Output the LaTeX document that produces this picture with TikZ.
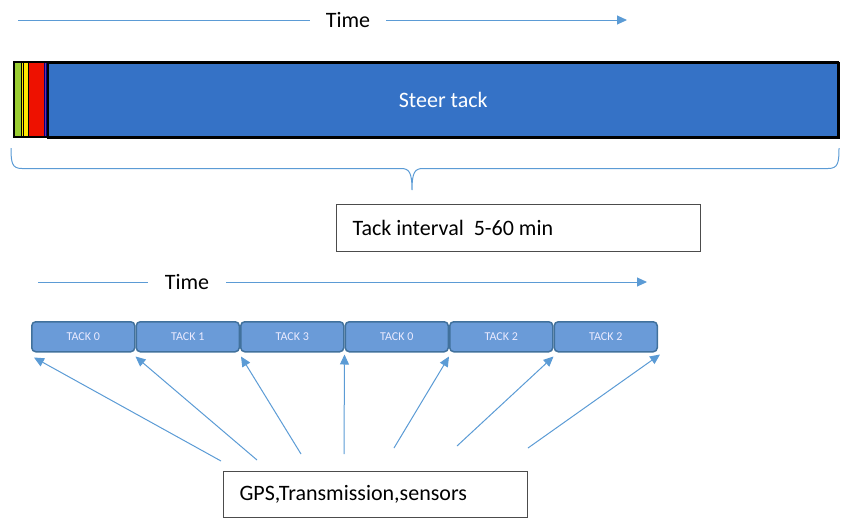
\documentclass[tikz,border=0pt]{standalone}
\usepackage{fontspec}
\setmainfont{Carlito}
\usetikzlibrary{arrows.meta,positioning}
\definecolor{timeblue}{HTML}{5B9BD5}
\definecolor{steerblue}{HTML}{3572C6}
\definecolor{tackfill}{HTML}{6A9BD8}
\definecolor{tackline}{HTML}{41719C}
\definecolor{stripgreen}{HTML}{9ACD32}
\definecolor{stripyellow}{HTML}{FFE600}
\definecolor{stripred}{HTML}{EE1100}
\definecolor{strippurple}{HTML}{7030A0}

\begin{document}
\begin{tikzpicture}[x=1pt,y=-1pt,
  bigtext/.style={font=\fontsize{22}{26}\selectfont},
  timeline/.style={draw=timeblue,line width=1pt},
  timearrow/.style={timeline,-{Triangle[length=10pt,width=9pt]}},
  tackbox/.style={draw=tackline,fill=tackfill,line width=1.5pt,rounded corners=4pt,
    minimum width=103pt,minimum height=30pt,inner sep=0pt,text=white!92!blue,
    font=\fontsize{12}{14}\selectfont},
  infobox/.style={bigtext,draw=black!70,line width=1pt,align=flush left,inner xsep=16pt,anchor=north west}]
\useasboundingbox (0,0) rectangle (847,528);

% time axis on top
\node[bigtext,inner xsep=16pt] (time1) at (348,20) {Time};
\coordinate (time1start) at (18,20);
\coordinate (time1end) at (627,20);
\draw[timeline] (time1start) -- (time1.west);
\draw[timearrow] (time1.east) -- (time1end);

% the tack bar
\filldraw[draw=black,line width=0.8pt,fill=stripgreen] (14,62) rectangle (21.5,137);
\filldraw[draw=black,line width=0.8pt,fill=stripyellow] (21.5,62) rectangle (23,137);
\filldraw[draw=black,line width=0.8pt,fill=stripyellow] (23,62) rectangle (28,137);
\filldraw[draw=black,line width=0.8pt,fill=stripred] (28,62) rectangle (44.5,137);
\filldraw[draw=black!50!blue,line width=0.8pt,fill=strippurple] (44.5,62) rectangle (46.5,137);
\node[bigtext,draw=black,fill=steerblue,text=white,line width=1.5pt,minimum width=791pt,
  minimum height=75pt,anchor=north west] (steer) at (47,62) {Steer tack};
\draw[line width=1.5pt] (14,62) rectangle (838,137);

% brace
\draw[timeline] (11,148) .. controls (11,163) and (12,168.5) .. (22,168.5) -- (401,168.5)
  .. controls (409,168.5) and (412,172) .. (412,190)
  .. controls (412,172) and (415,168.5) .. (423,168.5) -- (828,168.5)
  .. controls (838,168.5) and (839,163) .. (839,148);

\node[infobox,text width=332pt,minimum height=47pt] (interval) at (336,204) {Tack interval\ \ 5-60 min};

% time axis of the tacks
\node[bigtext,inner xsep=17pt] (time2) at (187,282) {Time};
\coordinate (time2start) at (38,282);
\coordinate (time2end) at (647,282);
\draw[timeline] (time2start) -- (time2.west);
\draw[timearrow] (time2.east) -- (time2end);

\node[tackbox,anchor=north west] (t0) at (31,321) {TACK 0};
\node[tackbox,right=0pt of t0] (t1) {TACK 1};
\node[tackbox,right=0pt of t1] (t2) {TACK 3};
\node[tackbox,right=0pt of t2] (t3) {TACK 0};
\node[tackbox,right=0pt of t3] (t4) {TACK 2};
\node[tackbox,right=0pt of t4] (t5) {TACK 2};

\node[infobox,text width=272pt,minimum height=46pt] (gps) at (223,471) {GPS,Transmission,sensors};

% arrows from the sensors to the tacks
\coordinate (g0) at (221,461);
\coordinate (g1) at (257,460);
\coordinate (g2) at (301,454);
\coordinate (g3) at (344,454);
\coordinate (g4) at (394,448);
\coordinate (g5) at (457,446);
\coordinate (g6) at (528,448);
\coordinate (h0) at ([shift={(3,5)}]t0.south west);
\coordinate (h1) at ([shift={(0,4)}]t1.south west);
\coordinate (h2) at ([shift={(1,4)}]t2.south west);
\coordinate (h3) at ([shift={(0,2)}]t3.south west);
\coordinate (h4) at ([shift={(0,4)}]t4.south west);
\coordinate (h5) at ([shift={(0,4)}]t5.south west);
\coordinate (h6) at ([shift={(2,2)}]t5.south east);
\draw[timearrow] (g0) -- (h0);
\draw[timearrow] (g1) -- (h1);
\draw[timearrow] (g2) -- (h2);
\draw[timearrow] (g3) -- (h3);
\draw[timearrow] (g4) -- (h4);
\draw[timearrow] (g5) -- (h5);
\draw[timearrow] (g6) -- (h6);
\end{tikzpicture}
\end{document}
